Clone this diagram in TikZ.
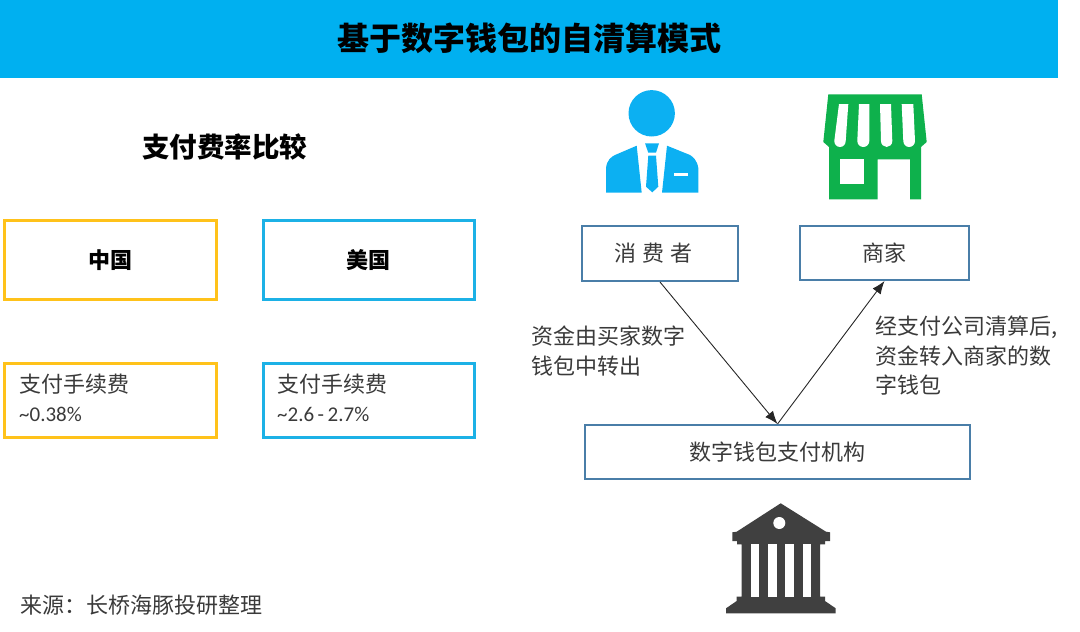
\documentclass[tikz,border=0pt]{standalone}
\usepackage{fontspec}
\setmainfont{Noto Sans CJK SC}
\newfontfamily\numfont{Carlito}
\usetikzlibrary{arrows.meta}
\definecolor{hdr}{HTML}{00B0F0}
\definecolor{ybox}{HTML}{FFC21A}
\definecolor{bbox}{HTML}{1CB1E6}
\definecolor{fbox}{HTML}{4A7EA8}
\definecolor{persona}{HTML}{0CB0F2}
\definecolor{shopg}{HTML}{0EB14C}
\definecolor{bankg}{HTML}{404040}
\definecolor{txt}{HTML}{3A3A3A}
\tikzset{
  tx/.style={text=txt,inner sep=0pt,font=\fontsize{22}{29.5}\selectfont,align=left},
  hd/.style={text=black,inner sep=0pt,font=\fontsize{22}{26}\selectfont\bfseries},
  cbox/.style={draw,line width=3pt,minimum width=#1,minimum height=79pt,inner sep=0pt},
  sbox/.style={draw,line width=3pt,minimum width=#1,minimum height=74pt,inner sep=0pt},
  flowbox/.style={draw=fbox,line width=2pt,inner sep=0pt,text=txt,font=\fontsize{22}{26}\selectfont},
  flowarrow/.style={draw=black!85,line width=0.9pt,-{Latex[length=13pt,width=10pt]}},
}
\begin{document}
\begin{tikzpicture}[x=1pt,y=-1pt]
\useasboundingbox (0,0) rectangle (1080,632);
\fill[hdr] (0,0) rectangle (1058,78);
\node[text=black,inner sep=0pt,font=\fontsize{32}{36}\selectfont\bfseries] (title) at (529,38) {基于数字钱包的自清算模式};
\node[hd,font=\fontsize{27.5}{32}\selectfont\bfseries] (cmp) at (224.5,147) {支付费率比较};
% left boxes
\node[cbox=212pt,draw=ybox,hd] (cn) at (110,260) {\raisebox{1pt}{中国}};
\node[cbox=211pt,draw=bbox,hd] (us) at (368.5,260) {\raisebox{1pt}{美国}};
\node[sbox=212pt,draw=ybox] (cnfee) at (110,400) {};
\node[sbox=211pt,draw=bbox] (usfee) at (368.5,400) {};
\node[tx,anchor=west] (cnfeea) at (19,384) {支付手续费};
\node[tx,anchor=west,font=\fontsize{21}{25}\numfont] (cnfeeb) at (19,414) {\textasciitilde 0.38\%};
\node[tx,anchor=west] (usfeea) at (277,384) {支付手续费};
\node[tx,anchor=west,font=\fontsize{21}{25}\numfont] (usfeeb) at (277,414) {\textasciitilde 2.6\,-\,2.7\%};
% flow boxes
\node[flowbox,minimum width=156pt,minimum height=55pt] (consumer) at (660,253.5) {消\hspace{6pt}费\hspace{6pt}者\hspace*{13pt}};
\node[flowbox,minimum width=169pt,minimum height=54pt] (merchant) at (884.5,253) {商家};
\node[flowbox,minimum width=385pt,minimum height=54pt] (payinst) at (777.5,452) {数字钱包支付机构};
\draw[flowarrow] (consumer.south) -- (payinst.north);
\draw[flowarrow] (payinst.north) -- (merchant.south);
\node[tx,anchor=north west] (leftnote) at (531,326) {资金由买家数字\\钱包中转出};
\node[tx,anchor=north west] (rightnote) at (875,316) {经支付公司清算后,\\资金转入商家的数\\字钱包};
\node[tx,anchor=west] (src) at (20,605) {来源：长桥海豚投研整理};
% person icon
\fill[persona] (651.7,113.3) circle (23.2);
\fill[persona] (606,192.7) -- (606,168) .. controls (607,160) and (611,157) .. (615,155) -- (636.7,145.7) -- (641.7,192.7) -- cycle;
\fill[persona] (698.3,192.7) -- (698.3,168) .. controls (697,160) and (693,157) .. (690,155) -- (667,145.7) -- (662,192.7) -- cycle;
\fill[white] (674,172.7) rectangle (687.7,176);
\fill[persona] (645,143.3) -- (659,143.3) -- (656,152.7) -- (648.3,152.7) -- cycle;
\fill[persona] (648.3,155.7) -- (656,155.7) -- (658.3,186.7) -- (652.3,192.3) -- (646,186.7) -- cycle;
% shop icon
\fill[shopg] (828.3,94.3) -- (921.7,94.3) -- (926.7,142) -- (921,147) -- (921,199.3) -- (910,199.3) -- (910,159.3) -- (877.7,159.3) -- (877.7,199.3) -- (829,199.3) -- (829,147) -- (823.3,142) -- cycle;
\fill[white] (840,159) rectangle (863.7,184);
\foreach \ta/\tb/\ba/\bb in {839/848.3/834.3/845.7,859/869.3/857.3/869.3,880/891/881/892.3,901.7/913.3/903.3/915}{
  \fill[white] (\ta,104) -- (\tb,104) -- (\bb,141) arc[start angle=0,end angle=180,x radius={(\bb-\ba)/2},y radius=6] -- cycle;
}
% bank icon
\fill[bankg] (780.7,503.3) -- (826,531.7) -- (830,532.3) -- (830,541) -- (825,541) -- (825,544.3) -- (820,544.3) -- (820,596.7) -- (825,596.7) -- (825,601) -- (835.7,608.3) -- (835.7,613.3) -- (726,613.3) -- (726,608.3) -- (736.7,601) -- (736.7,596.7) -- (741.7,596.7) -- (741.7,544.3) -- (737,544.3) -- (737,541) -- (732.3,541) -- (732.3,532.3) -- (736.7,531.7) -- cycle;
\fill[white] (779.3,523) circle (6);
\foreach \a/\b in {750.7/759.3,768/776.7,785/793.7,802.7/811.3}{
  \fill[white] (\a,544.3) rectangle (\b,596.7);
}
\end{tikzpicture}
\end{document}
